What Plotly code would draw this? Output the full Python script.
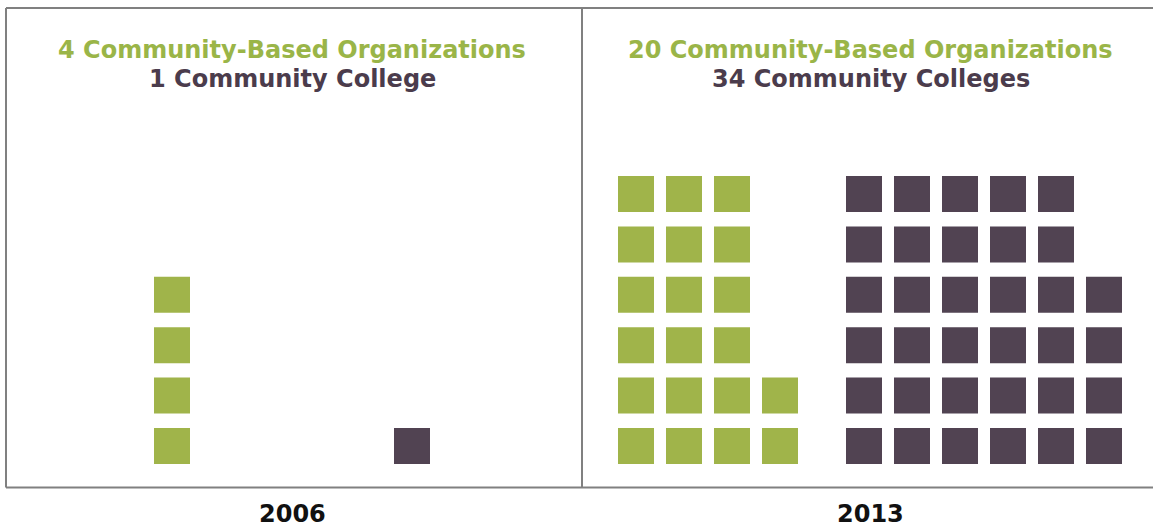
import plotly.graph_objects as go

# ---- data ----
years = ["2006", "2013"]
cbo_counts = [4, 20]          # community-based organizations
cc_counts = [1, 34]           # community colleges
# squares per column (stacked from the bottom)
cbo_columns = {"2006": [4], "2013": [6, 6, 6, 2]}
cc_columns = {"2006": [1], "2013": [6, 6, 6, 6, 6, 4]}

# ---- layout constants (pixel-ish horizontal units) ----
W, H = 1153, 529
panel_center = {"2006": 292, "2013": 870.5}
cbo_x0 = {"2006": 172, "2013": 636}
cc_x0 = {"2006": 412, "2013": 864}
col_step = 48
row_px = 50.4
bottom_row_px = 446
GREEN = "#A0B44A"
PLUM = "#514352"
GREEN_TXT = "#9AB548"
PLUM_TXT = "#4B3C4C"

def grid(columns, x0):
    xs, ys = [], []
    for ci, n in enumerate(columns):
        for r in range(n):
            xs.append(x0 + ci * col_step)
            ys.append(r)
    return xs, ys

fig = go.Figure()
for yr in years:
    x, y = grid(cbo_columns[yr], cbo_x0[yr])
    fig.add_trace(go.Scatter(x=x, y=y, mode="markers", hoverinfo="skip",
                             marker=dict(symbol="square", size=36, color=GREEN, line=dict(width=0))))
    x, y = grid(cc_columns[yr], cc_x0[yr])
    fig.add_trace(go.Scatter(x=x, y=y, mode="markers", hoverinfo="skip",
                             marker=dict(symbol="square", size=36, color=PLUM, line=dict(width=0))))

y_lo = (bottom_row_px - H) / row_px
y_hi = bottom_row_px / row_px
fig.update_xaxes(range=[0, W], visible=False, fixedrange=True)
fig.update_yaxes(range=[y_lo, y_hi], visible=False, fixedrange=True)

line = dict(color="#808080", width=2)
shapes = [
    dict(type="line", xref="paper", yref="paper", x0=6/W, x1=1, y0=1-8/H, y1=1-8/H, line=line),
    dict(type="line", xref="paper", yref="paper", x0=6/W, x1=1, y0=1-487.5/H, y1=1-487.5/H, line=line),
    dict(type="line", xref="paper", yref="paper", x0=6/W, x1=6/W, y0=1-8/H, y1=1-487.5/H, line=line),
    dict(type="line", xref="paper", yref="paper", x0=582/W, x1=582/W, y0=1-8/H, y1=1-487.5/H, line=line),
]

FONT = "DejaVu Sans"
annotations = []
for i, yr in enumerate(years):
    cx = panel_center[yr] / W
    cc_word = "Community College" if cc_counts[i] == 1 else "Community Colleges"
    annotations.append(dict(x=cx, y=1 - 50/H, xref="paper", yref="paper", showarrow=False,
                            text=f"<b>{cbo_counts[i]} Community-Based Organizations</b>",
                            font=dict(family=FONT, size=24, color=GREEN_TXT), xanchor="center", yanchor="middle"))
    annotations.append(dict(x=cx, y=1 - 79/H, xref="paper", yref="paper", showarrow=False,
                            text=f"<b>{cc_counts[i]} {cc_word}</b>",
                            font=dict(family=FONT, size=24, color=PLUM_TXT), xanchor="center", yanchor="middle"))
    annotations.append(dict(x=cx, y=1 - 514/H, xref="paper", yref="paper", showarrow=False,
                            text=f"<b>{yr}</b>",
                            font=dict(family=FONT, size=24, color="#111111"), xanchor="center", yanchor="middle"))

fig.update_layout(width=W, height=H, margin=dict(l=0, r=0, t=0, b=0),
                  plot_bgcolor="white", paper_bgcolor="white", showlegend=False,
                  shapes=shapes, annotations=annotations)

fig.write_html("out.html", config={"displayModeBar": False},
               post_script="document.body.style.margin='0';document.body.style.overflow='hidden';")
